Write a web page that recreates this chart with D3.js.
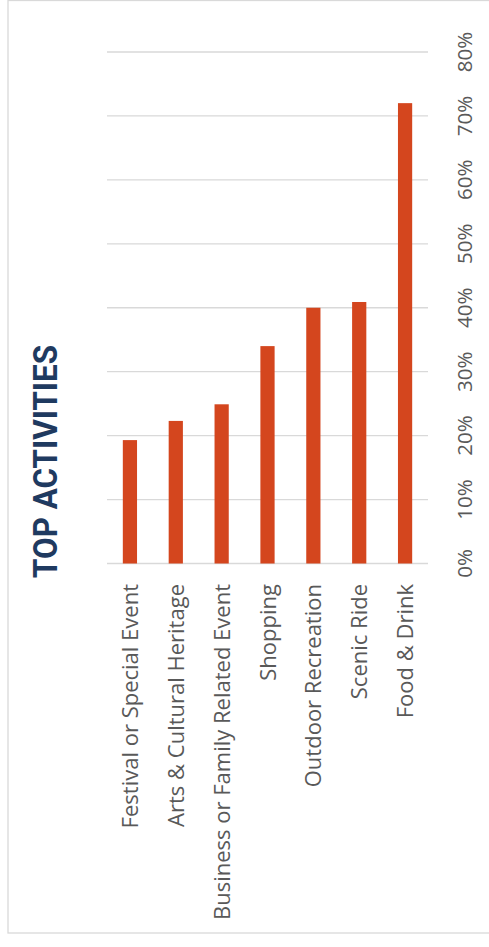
<!DOCTYPE html>
<html>
<head>
<meta charset="utf-8">
<script src="https://cdn.jsdelivr.net/npm/d3@7"></script>
<style>
  html, body { margin: 0; padding: 0; background: #fff; }
  svg { display: block; }
</style>
</head>
<body>
<script>
const categories = ["Festival or Special Event", "Arts & Cultural Heritage", "Business or Family Related Event", "Shopping", "Outdoor Recreation", "Scenic Ride", "Food & Drink"];
const values = [0.193, 0.223, 0.249, 0.340, 0.400, 0.409, 0.720];
const tickValues = [0, 0.1, 0.2, 0.3, 0.4, 0.5, 0.6, 0.7, 0.8];
const title = "TOP ACTIVITIES";

const W = 489, H = 947;
const svg = d3.select("body").append("svg").attr("width", W).attr("height", H);

// outer border
svg.append("rect").attr("x", 8).attr("y", 0.5).attr("width", W + 10).attr("height", 932.5)
  .attr("fill", "#fff").attr("stroke", "#d9d9d9").attr("stroke-width", 1.3);

const x = d3.scaleBand().domain(categories).range([107, 428]).paddingInner(0.69).paddingOuter(0.345);
const y = d3.scaleLinear().domain([0, 0.8]).range([563.5, 52]);

// gridlines
svg.append("g").selectAll("line").data(tickValues).join("line")
  .attr("x1", 107).attr("x2", 428)
  .attr("y1", d => y(d)).attr("y2", d => y(d))
  .attr("stroke", "#d9d9d9").attr("stroke-width", 1.3);

// bars
svg.append("g").selectAll("rect").data(categories).join("rect")
  .attr("x", d => x(d)).attr("width", x.bandwidth())
  .attr("y", (d, i) => y(values[i]))
  .attr("height", (d, i) => y(0) - y(values[i]))
  .attr("fill", "#d4461e");

// value axis labels (rotated)
svg.append("g").selectAll("text").data(tickValues).join("text")
  .attr("transform", d => `translate(472,${y(d)}) rotate(-90)`)
  .attr("text-anchor", "middle")
  .attr("font-family", "'Open Sans', Lato, sans-serif")
  .attr("font-size", 20.5)
  .attr("fill", "#595959")
  .text(d => d3.format(".0%")(d));

// category labels (rotated)
svg.append("g").selectAll("text").data(categories).join("text")
  .attr("transform", d => `translate(${x(d) + x.bandwidth() / 2 + 8},584) rotate(-90)`)
  .attr("text-anchor", "end")
  .attr("font-family", "'Open Sans', Lato, sans-serif")
  .attr("font-size", 22)
  .attr("fill", "#595959")
  .text(d => d);

// title
svg.append("text")
  .attr("transform", "translate(56.5,461.5) rotate(-90)")
  .attr("text-anchor", "middle")
  .attr("font-family", "Roboto, 'Liberation Sans', sans-serif")
  .attr("font-weight", "bold")
  .attr("font-size", 33)
  .attr("textLength", 233)
  .attr("lengthAdjust", "spacingAndGlyphs")
  .attr("fill", "#1f3a60")
  .text(title);
</script>
</body>
</html>
